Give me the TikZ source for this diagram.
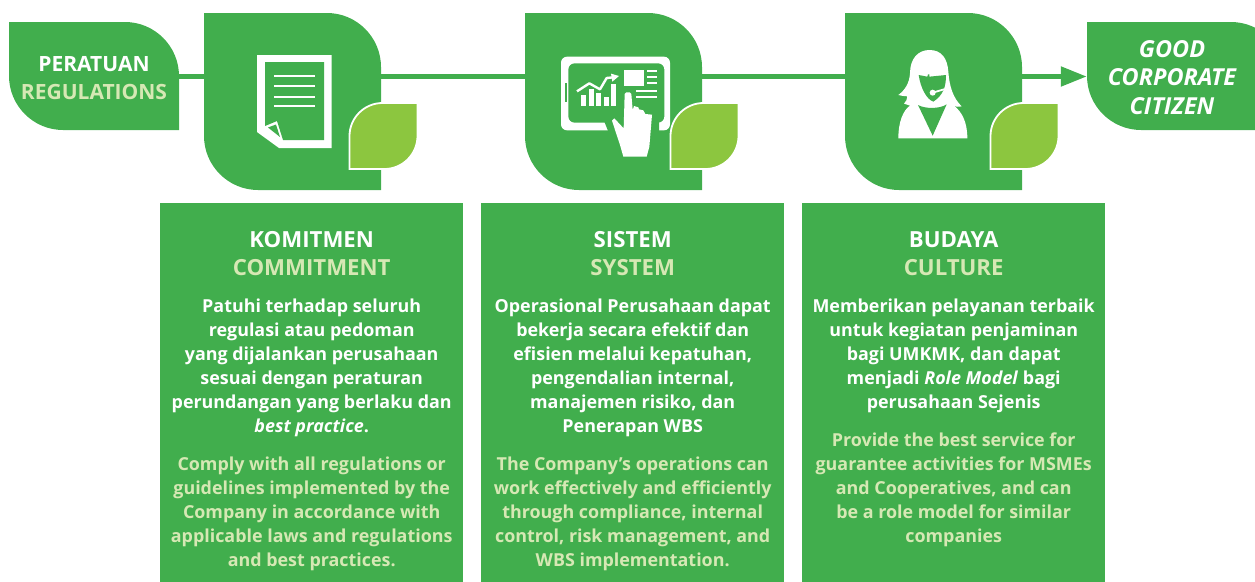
\documentclass[tikz,border=0pt]{standalone}
\usepackage{fontspec}
\setmainfont{Open Sans}
\usetikzlibrary{arrows.meta}
\definecolor{leafgreen}{HTML}{41AE4D}
\definecolor{lime}{HTML}{8CC63F}
\definecolor{pale}{HTML}{D6E8B4}
% sharp top-left and bottom-right corners
\newcommand{\bigleaf}[5]{(#1,#2) -- ({#3-#5},#2) .. controls ({#3-.45*#5},#2) and (#3,{#2+.45*#5}) .. (#3,{#2+#5}) -- (#3,#4) -- ({#1+#5},#4) .. controls ({#1+.45*#5},#4) and (#1,{#4-.45*#5}) .. (#1,{#4-#5}) -- cycle}
% sharp top-right and bottom-left corners
\newcommand{\smallleaf}[5]{(#3,#2) -- (#3,{#4-#5}) .. controls (#3,{#4-.45*#5}) and ({#3-.45*#5},#4) .. ({#3-#5},#4) -- (#1,#4) -- (#1,{#2+#5}) .. controls (#1,{#2+.45*#5}) and ({#1+.45*#5},#2) .. ({#1+#5},#2) -- cycle}
\tikzset{
  x=1pt,y=-1pt,
  shapefill/.style={fill=leafgreen,draw=none},
  accent/.style={fill=lime,draw=white,line width=1.8pt},
  panel/.style={fill=leafgreen,draw=none,minimum width=303pt,minimum height=379pt,inner sep=0pt,anchor=north west},
  flow/.style={draw=leafgreen,line width=5pt},
  heading/.style={font=\fontsize{22.2}{28}\selectfont\bfseries,align=center,anchor=north,inner sep=0pt,text=white},
  bodytext/.style={font=\fontsize{17.9}{24}\selectfont\bfseries,align=center,anchor=north,inner sep=0pt},
  reglabel/.style={font=\fontsize{21}{28}\selectfont\bfseries,align=center,anchor=north,inner sep=0pt,text=white},
  goodlabel/.style={font=\fontsize{23.4}{28.5}\selectfont\bfseries\itshape,align=center,anchor=north,inner sep=0pt,text=white},
  icon/.style={fill=white,draw=none},
  cut/.style={fill=leafgreen,draw=none},
  rule/.style={draw=white,line width=2.4pt},
}
\begin{document}
\begin{tikzpicture}
\useasboundingbox (0,0) rectangle (1255,581);
\fill[shapefill] \bigleaf{9}{22}{179}{130}{54};
\fill[shapefill] \bigleaf{1087}{22}{1285}{130}{54};
\node[minimum width=170pt,minimum height=108pt,inner sep=0pt] (reg) at (94,76.5) {};
\node[minimum width=168pt,minimum height=108pt,inner sep=0pt] (good) at (1171,76.5) {};
\foreach \n/\xa in {one/204,two/525,three/845}{
  \fill[shapefill] \bigleaf{\xa}{13}{\xa+177}{190}{54};
  \node[minimum width=177pt,minimum height=127pt,inner sep=0pt] (\n) at (\xa+88.5,76.5) {};
}
\draw[flow] (reg.east) -- (one.west);
\draw[flow] (one.east) -- (two.west);
\draw[flow] (two.east) -- (three.west);
\draw[flow,-{Triangle[length=26pt,width=19pt]}] (three.east) -- (good.west);

% document icon
\fill[icon] (257,55) -- (331.5,55) -- (331.5,148) -- (279,148) -- (257,132) -- cycle;
\fill[cut] (265,62) -- (324,62) -- (324,140) -- (283,140) -- (277,121) -- (265,126) -- cycle;
\fill[cut] (268,127.5) -- (276,124.5) -- (280,137) -- cycle;
\foreach \yy in {76,86,97,106} \draw[rule] (274,\yy) -- (314.5,\yy);

% tablet icon
\begin{scope}[shift={(555,50)},x=.33333pt,y=-.33333pt]
  \fill[icon,even odd rule,rounded corners=6pt] (18,20) rectangle (345,241) (40,40) rectangle (328,218);
  \fill[cut] (29,100) rectangle (36,155);
  \fill[cut] (160,215) -- (312,215) -- (312,245) -- (160,245) -- (148,215) -- cycle;
  \foreach \xx/\yy in {78/135,101/118,123/130,146/140,168/102}
    \fill[icon] (\xx,\yy) rectangle (\xx+15,167);
  \draw[white,line width=2.4pt,line join=round] (66,124) -- (103,100) -- (135,118) -- (155,84) -- (175,82);
  \fill[icon] (168,71) -- (192,78) -- (172,95) -- cycle;
  \fill[icon] (207,61) rectangle (267,107);
  \foreach \yy in {62,80,98} \draw[white,line width=2pt] (277,\yy) -- (306,\yy);
  \foreach \yy in {122,141} \draw[white,line width=2pt] (244,\yy) -- (306,\yy);
  \fill[icon] (209,132) -- (214,127) -- (224,127) -- (229,132) -- (233,180) -- (237,168) -- (250,172) -- (252,178) -- (265,181) -- (271,192) -- (291,194) -- (283,290) -- (275,320) -- (205,320) -- (195,285) -- (171,212) -- (178,205) -- (206,235) -- cycle;
\end{scope}

% person icon
\begin{scope}[shift={(890,45)},x=.33333pt,y=-.33333pt]
  \fill[icon] (60,85) .. controls (60,40) and (85,15) .. (118,15) .. controls (155,15) and (172,40) .. (175,80)
     .. controls (178,125) and (190,160) .. (215,184) .. controls (205,186) and (195,186) .. (192,182)
     .. controls (215,200) and (232,230) .. (232,280) -- (25,280) .. controls (25,230) and (40,195) .. (60,182)
     .. controls (55,180) and (48,178) .. (42,176) .. controls (48,170) and (52,162) .. (52,154)
     .. controls (43,154) and (33,152) .. (25,150) .. controls (45,135) and (58,115) .. (60,85) -- cycle;
  \fill[cut] (86,90) -- (112,95) -- (114,88) -- (118,88) -- (118,95) -- (168,90) .. controls (168,125) and (160,150) .. (130,170) .. controls (110,163) and (92,130) .. (86,90) -- cycle;
  \fill[cut] (84,180) .. controls (105,192) and (150,192) .. (170,178) -- (128,272) -- cycle;
  \draw[white,line width=1.8pt] (128,143) -- (162,133);
  \fill[icon] (128,143) circle [radius=9];
\end{scope}

% accent leaves
\foreach \xa in {349.5,670.5,990.5}
  \filldraw[accent] \smallleaf{\xa}{103}{\xa+68}{169}{33};

% end labels
\node[reglabel] (regtext) at (94,51.5) {\strut PERATUAN\\\textcolor{pale}{REGULATIONS}};
\node[goodlabel] (goodtext) at (1172,37) {\strut GOOD\\CORPORATE\\CITIZEN};

% panels
\node[panel] (p1) at (160,202.5) {};
\node[panel] (p2) at (481,202.5) {};
\node[panel] (p3) at (802,202.5) {};

\node[heading] (h1) at (p1.north |- 0,228) {\strut KOMITMEN\\\textcolor{pale}{COMMITMENT}};
\node[heading] (h2) at (p2.north |- 0,228) {\strut SISTEM\\\textcolor{pale}{SYSTEM}};
\node[heading] (h3) at (p3.north |- 0,228) {\strut BUDAYA\\\textcolor{pale}{CULTURE}};

\node[bodytext,text=white] (a1) at (p1.north |- 0,295) {\strut Patuhi terhadap seluruh\\regulasi atau pedoman\\yang dijalankan perusahaan\\sesuai dengan peraturan\\perundangan yang berlaku dan\\\textit{best practice}.};
\node[bodytext,text=pale] (b1) at (p1.north |- 0,453) {\strut Comply with all regulations or\\guidelines implemented by the\\Company in accordance with\\applicable laws and regulations\\and best practices.};

\node[bodytext,text=white] (a2) at (p2.north |- 0,295) {\strut Operasional Perusahaan dapat\\bekerja secara efektif dan\\efisien melalui kepatuhan,\\pengendalian internal,\\manajemen risiko, dan\\Penerapan WBS};
\node[bodytext,text=pale] (b2) at (p2.north |- 0,453) {\strut The Company’s operations can\\work effectively and efficiently\\through compliance, internal\\control, risk management, and\\WBS implementation.};

\node[bodytext,text=white] (a3) at (p3.north |- 0,295) {\strut Memberikan pelayanan terbaik\\untuk kegiatan penjaminan\\bagi UMKMK, dan dapat\\menjadi \textit{Role Model} bagi\\perusahaan Sejenis};
\node[bodytext,text=pale] (b3) at (p3.north |- 0,429) {\strut Provide the best service for\\guarantee activities for MSMEs\\and Cooperatives, and can\\be a role model for similar\\companies};
\end{tikzpicture}
\end{document}
